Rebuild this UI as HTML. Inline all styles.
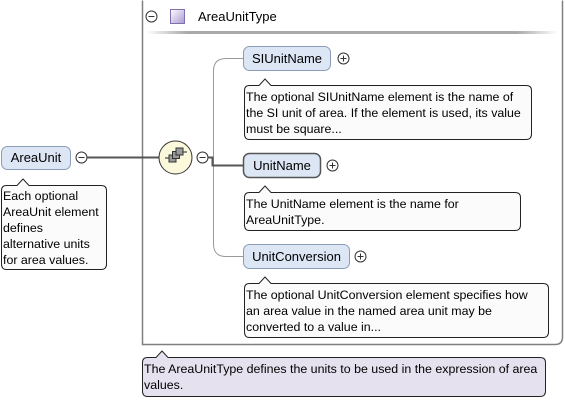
<!DOCTYPE html>
<html><head><meta charset="utf-8"><style>
html,body{margin:0;padding:0;background:#fff;}
svg{display:block;font-family:"Liberation Sans",Arial,sans-serif;}
</style></head><body>
<svg width="565" height="400" viewBox="0 0 565 400" xmlns="http://www.w3.org/2000/svg">
<defs>
<linearGradient id="sep" x1="0" x2="1"><stop offset="0" stop-color="#fff"/><stop offset="0.1" stop-color="#aaa"/><stop offset="0.9" stop-color="#aaa"/><stop offset="1" stop-color="#fff"/></linearGradient>
<linearGradient id="sq" x1="0" y1="0" x2="1" y2="1"><stop offset="0" stop-color="#fff"/><stop offset="1" stop-color="#a898d0"/></linearGradient>
</defs>
<path d="M142.5 0.5 V344.5 H555 Q562.5 344.5 562.5 337 V0.5" fill="none" stroke="#808080" stroke-width="1.5"/>
<rect x="146" y="31" width="412" height="3" fill="url(#sep)"/>
<circle cx="151.5" cy="16.5" r="5.5" fill="#fff" stroke="#333"/>
<line x1="148.5" y1="16.5" x2="154.5" y2="16.5" stroke="#333"/>
<rect x="170.5" y="9.5" width="14" height="14" fill="url(#sq)" stroke="#8070b0"/>
<text x="198" y="21" font-size="13" fill="#000">AreaUnitType</text>

<rect x="1.5" y="146.5" width="69" height="23" rx="6" fill="#dce6f5" stroke="#8a9cb8"/>
<text x="36" y="162" font-size="13" text-anchor="middle">AreaUnit</text>
<circle cx="81.5" cy="157.5" r="5.5" fill="#fff" stroke="#333"/>
<line x1="78.5" y1="157.5" x2="84.5" y2="157.5" stroke="#333"/>
<line x1="87" y1="157.5" x2="159" y2="157.5" stroke="#555" stroke-width="2"/>
<path d="M1.5 190.5 Q1.5 185.5 6.5 185.5 H17 L23 179 L29 185.5 H101 Q106.5 185.5 106.5 190.5 V264 Q106.5 269.5 101 269.5 H6.5 Q1.5 269.5 1.5 264 Z" fill="#fbfbfb" stroke="#222"/>
<g font-size="12.4"><text x="3" y="200">Each optional</text><text x="3" y="216">AreaUnit element</text><text x="3" y="232">defines</text><text x="3" y="248">alternative units</text><text x="3" y="264">for area values.</text></g>

<circle cx="175.5" cy="157.5" r="16.5" fill="#fbf8dc" stroke="#333"/>
<line x1="165" y1="158" x2="170" y2="158" stroke="#222"/>
<rect x="169" y="155" width="7" height="7" fill="#999" stroke="#333"/>
<rect x="172.5" y="151.5" width="7" height="7" fill="#999" stroke="#333"/>
<rect x="176" y="148" width="7" height="7" fill="#999" stroke="#333"/>
<line x1="183" y1="152" x2="187" y2="152" stroke="#222"/>
<circle cx="202.5" cy="157.5" r="5.5" fill="#fff" stroke="#333"/>
<line x1="199.5" y1="157.5" x2="205.5" y2="157.5" stroke="#333"/>

<path d="M243 58.5 H226 Q213.5 58.5 213.5 71 V244 Q213.5 256.5 226 256.5 H243" fill="none" stroke="#999" stroke-width="1"/>
<path d="M208 157.5 H212.5 V165.5 H243" fill="none" stroke="#555" stroke-width="2"/>

<rect x="243.5" y="46.5" width="87" height="24" rx="6" fill="#dce6f5" stroke="#8a9cb8"/>
<text x="287" y="63" font-size="13" text-anchor="middle">SIUnitName</text>
<circle cx="343.5" cy="58.5" r="5.5" fill="#fff" stroke="#333"/>
<line x1="340.5" y1="58.5" x2="346.5" y2="58.5" stroke="#333"/><line x1="343.5" y1="55.5" x2="343.5" y2="61.5" stroke="#333"/>
<path d="M244.5 90.5 Q244.5 85.5 249.5 85.5 H259 L265 79 L271 85.5 H526 Q531.5 85.5 531.5 90.5 V134 Q531.5 139.5 526 139.5 H249.5 Q244.5 139.5 244.5 134 Z" fill="#fbfbfb" stroke="#222"/>
<g font-size="12.4"><text x="246" y="101">The optional SIUnitName element is the name of</text><text x="246" y="117">the SI unit of area. If the element is used, its value</text><text x="246" y="133">must be square...</text></g>

<rect x="243.5" y="153.5" width="77" height="24" rx="6" fill="#dce6f5" stroke="#555" stroke-width="1.5"/>
<text x="282" y="170" font-size="13" text-anchor="middle">UnitName</text>
<circle cx="332.5" cy="165.5" r="5.5" fill="#fff" stroke="#333"/>
<line x1="329.5" y1="165.5" x2="335.5" y2="165.5" stroke="#333"/><line x1="332.5" y1="162.5" x2="332.5" y2="168.5" stroke="#333"/>
<path d="M244.5 197.5 Q244.5 192.5 249.5 192.5 H259 L265 186 L271 192.5 H515 Q520.5 192.5 520.5 197.5 V225 Q520.5 230.5 515 230.5 H249.5 Q244.5 230.5 244.5 225 Z" fill="#fbfbfb" stroke="#222"/>
<g font-size="12.4"><text x="246" y="208">The UnitName element is the name for</text><text x="246" y="224">AreaUnitType.</text></g>

<rect x="243.5" y="244.5" width="106" height="24" rx="6" fill="#dce6f5" stroke="#8a9cb8"/>
<text x="296.5" y="261" font-size="13" text-anchor="middle">UnitConversion</text>
<circle cx="360.5" cy="256.5" r="5.5" fill="#fff" stroke="#333"/>
<line x1="357.5" y1="256.5" x2="363.5" y2="256.5" stroke="#333"/><line x1="360.5" y1="253.5" x2="360.5" y2="259.5" stroke="#333"/>
<path d="M244.5 288.5 Q244.5 283.5 249.5 283.5 H259 L265 277 L271 283.5 H543 Q548.5 283.5 548.5 288.5 V332 Q548.5 337.5 543 337.5 H249.5 Q244.5 337.5 244.5 332 Z" fill="#fbfbfb" stroke="#222"/>
<g font-size="12.4"><text x="246" y="299">The optional UnitConversion element specifies how</text><text x="246" y="315">an area value in the named area unit may be</text><text x="246" y="331">converted to a value in...</text></g>

<path d="M142.5 362.5 Q142.5 357.5 147.5 357.5 H156 L162 351 L168 357.5 H540 Q545.5 357.5 545.5 362.5 V391 Q545.5 396.5 540 396.5 H147.5 Q142.5 396.5 142.5 391 Z" fill="#e6e1ef" stroke="#222"/>
<g font-size="12.4"><text x="144" y="373">The AreaUnitType defines the units to be used in the expression of area</text><text x="144" y="389">values.</text></g>
</svg>
</body></html>
